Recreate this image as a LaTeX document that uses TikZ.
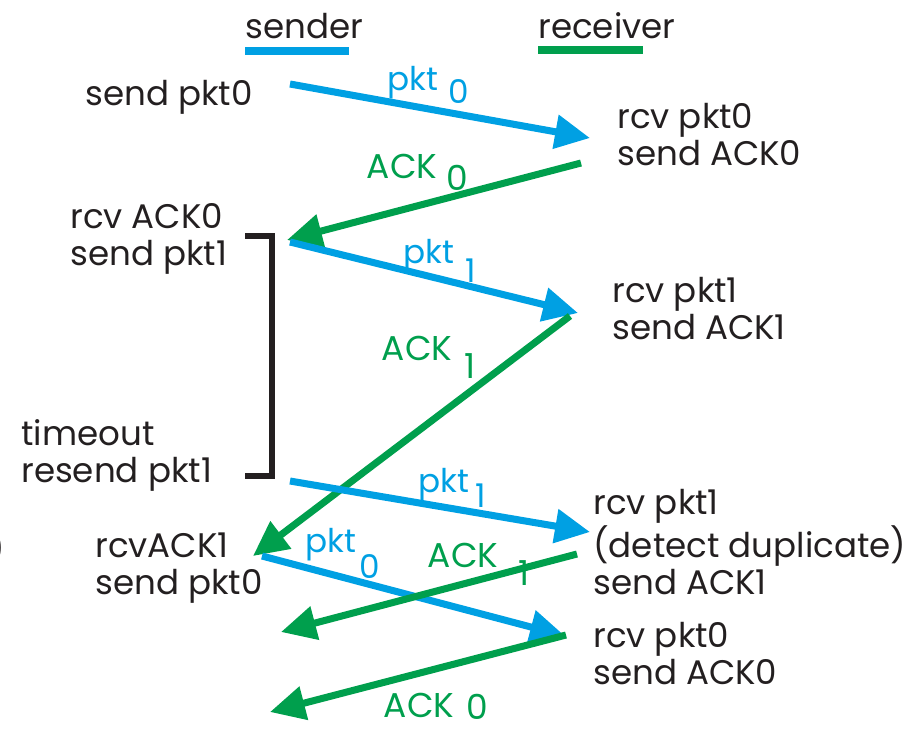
\documentclass[tikz,border=0pt]{standalone}
\usepackage{fontspec}
\setmainfont{Poppins}
\usepackage{xcolor}
\usetikzlibrary{arrows.meta}

\definecolor{pktblue}{HTML}{00A0E3}
\definecolor{ackgreen}{HTML}{009F4D}
\definecolor{ink}{HTML}{231F20}

\tikzset{
  evt/.style={anchor=base west, align=left, inner sep=0pt, text=ink,
    font=\fontsize{19.4}{21}\selectfont},
  pktmsg/.style={line width=4pt, draw=pktblue,
    -{Triangle[length=0.7cm,width=0.66cm,fill=pktblue]}},
  ackmsg/.style={line width=4pt, draw=ackgreen,
    -{Triangle[length=0.7cm,width=0.66cm,fill=ackgreen]}},
  pktlbl/.style={anchor=base, inner sep=0pt, text=pktblue,
    font=\fontsize{18.6}{20}\selectfont},
  acklbl/.style={anchor=base, inner sep=0pt, text=ackgreen,
    font=\fontsize{19.6}{20}\selectfont}
}

\begin{document}
\begin{tikzpicture}[x=0.02cm,y=-0.02cm]
    \useasboundingbox (0,0) rectangle (917,728);

    % Column headings
    \node[evt] (sender) at (245,38) {sender};
    \node[evt] (receiver) at (538,38) {receiver};
    \coordinate (sndL) at (245,51);
    \coordinate (sndR) at (349,51);
    \coordinate (rcvL) at (538,50);
    \coordinate (rcvR) at (643,50);
    \draw[line width=4pt,pktblue] (sndL) -- (sndR);
    \draw[line width=4pt,ackgreen] (rcvL) -- (rcvR);

    % Sender side (anchor = baseline of last line)
    \node[evt] (sendA) at (85,105) {send pkt0};
    \node[evt] (rcvAckA) at (70,265) {rcv ACK0\\send pkt1};
    \node[evt] (tmo) at (21,482) {timeout\\resend pkt1};
    \node[evt] (rcvAckB) at (95,594) {rcvACK1\\send pkt0};
    \node[evt,anchor=base east] (frag) at (5,560) {)};

    % Receiver side
    \node[evt] (rcvA) at (617,165) {rcv pkt0\\send ACK0};
    \node[evt] (rcvB) at (612,339) {rcv pkt1\\send ACK1};
    \node[evt] (rcvC) at (593,594) {rcv pkt1\\(detect duplicate)\\send ACK1};
    \node[evt] (rcvD) at (593,684) {rcv pkt0\\send ACK0};

    % Timer bracket
    \coordinate (tTop) at (245,236);
    \coordinate (tBot) at (245,476);
    \draw[line width=3.4pt,ink] (tTop) -- (272,236) -- (272,476) -- (tBot);

    % Message end points
    \coordinate (a1) at (290,84);   \coordinate (b1) at (590,138);
    \coordinate (a2) at (581,163);  \coordinate (b2) at (287,240);
    \coordinate (a3) at (290,242);  \coordinate (b3) at (578,313);
    \coordinate (a4) at (570,316);  \coordinate (b4) at (253,556);
    \coordinate (a5) at (290,481);  \coordinate (b5) at (590,532);
    \coordinate (a6) at (262,556);  \coordinate (b6) at (565,636);
    \coordinate (a7) at (577,554);  \coordinate (b7) at (281,632);
    \coordinate (a8) at (566,635);  \coordinate (b8) at (270,712);

    % Messages
    \draw[pktmsg] (a1) -- (b1);
    \draw[ackmsg] (a2) -- (b2);
    \draw[pktmsg] (a3) -- (b3);
    \draw[ackmsg] (a4) -- (b4);
    \draw[pktmsg] (a5) -- (b5);
    \draw[pktmsg] (a6) -- (b6);
    \draw[ackmsg] (a7) -- (b7);
    \draw[ackmsg] (a8) -- (b8);

    % Message labels
    \node[pktlbl] (l1) at (413,90) {pkt};  \node[pktlbl] (n1) at (459,103) {0};
    \node[acklbl] (l2) at (402,178) {ACK}; \node[acklbl] (n2) at (457,190) {0};
    \node[pktlbl] (l3) at (429,263) {pkt}; \node[pktlbl] (n3) at (471,282) {1};
    \node[acklbl] (l4) at (417,360) {ACK}; \node[acklbl] (n4) at (470,378) {1};
    \node[pktlbl] (l5) at (444,492) {pkt}; \node[pktlbl] (n5) at (481,507) {1};
    \node[pktlbl] (l6) at (331,552) {pkt}; \node[pktlbl] (n6) at (370,578) {0};
    \node[acklbl] (l7) at (463,567) {ACK}; \node[acklbl] (n7) at (524,585) {1};
    \node[acklbl] (l8) at (419,717) {ACK}; \node[acklbl] (n8) at (477,719) {0};
\end{tikzpicture}
\end{document}
